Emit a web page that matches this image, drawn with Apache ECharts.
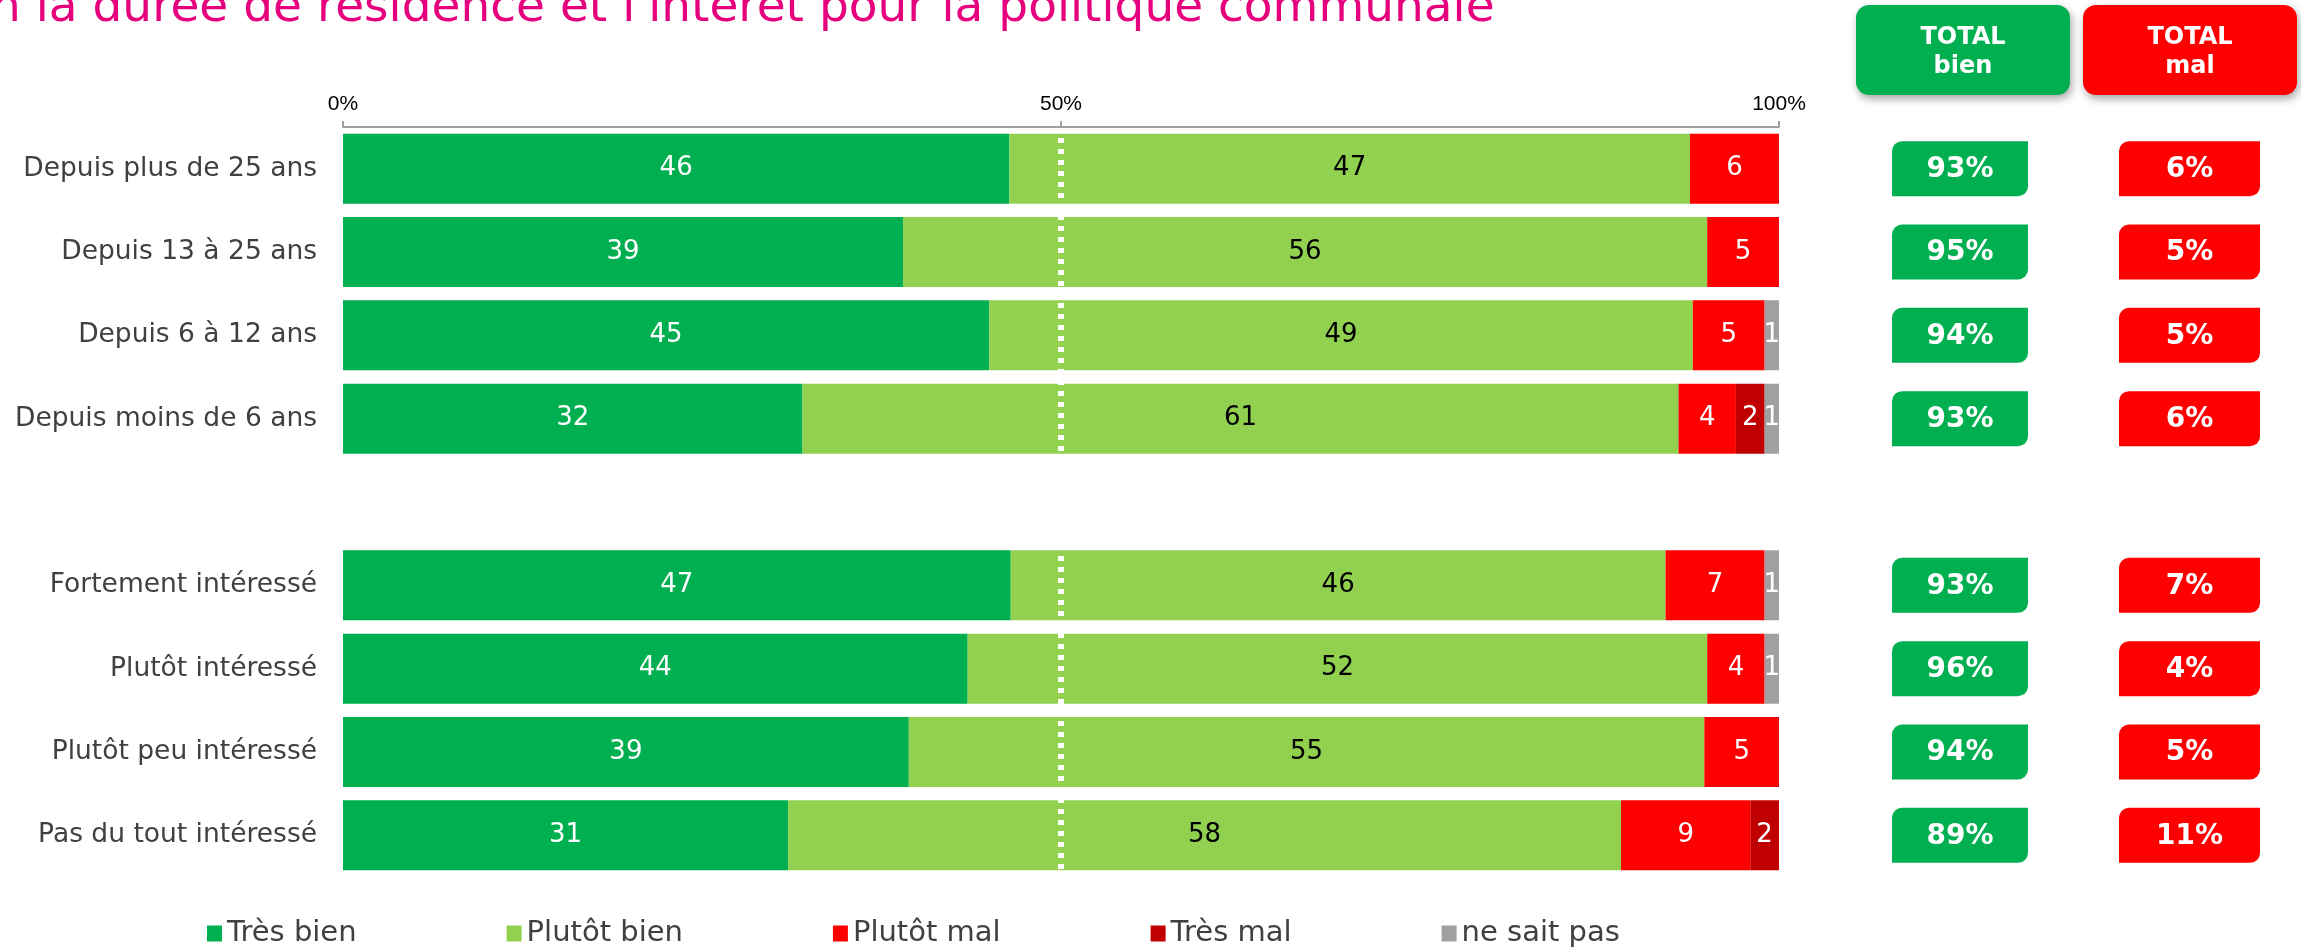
<!DOCTYPE html>
<html>
<head>
<meta charset="utf-8">
<title>Durée de résidence et intérêt pour la politique communale</title>
<script src="https://cdn.jsdelivr.net/npm/echarts@6/dist/echarts.min.js"></script>
<style>
  html, body { margin: 0; padding: 0; background: #fff; }
  #chart { width: 2301px; height: 947px; }
</style>
</head>
<body>
<div id="chart"></div>
<script>
// categories (the empty one makes the gap between the two blocks)
const categories = [
  'Depuis plus de 25 ans',
  'Depuis 13 à 25 ans',
  'Depuis 6 à 12 ans',
  'Depuis moins de 6 ans',
  '',
  'Fortement intéressé',
  'Plutôt intéressé',
  'Plutôt peu intéressé',
  'Pas du tout intéressé'
]
const seriesNames = ['Très bien', 'Plutôt bien', 'Plutôt mal', 'Très mal', 'ne sait pas']
const tresBien = [46.4, 39, 45, 32, null, 46.5, 43.5, 39.4, 31]
const plutotBien = [47.4, 56, 49, 61, null, 45.6, 51.5, 55.4, 58]
const plutotMal = [6.2, 5, 5, 4, null, 6.9, 4, 5.2, 9]
const tresMal = [null, null, null, 2, null, null, null, null, 2]
const neSaitPas = [null, null, 1, 1, null, 1, 1, null, null]
const totalBien = [93, 95, 94, 93, null, 93, 96, 94, 89]
const totalMal = [6, 5, 5, 6, null, 7, 4, 5, 11]
const axisTicks = [0, 50, 100]

const FONT = '"DejaVu Sans", Verdana, sans-serif'
const colors = ['#00B050', '#92D050', '#FF0000', '#C00000', '#A0A0A0']
const labelColors = ['#fff', '#000', '#fff', '#fff', '#fff']

const GRID_TOP = 127
const GRID_H = 750

const chart = echarts.init(document.getElementById('chart'), null, { renderer: 'canvas' })

function barSeries(name, data, idx) {
  const s = {
    name: name,
    type: 'bar',
    stack: 'total',
    barWidth: 70,
    data: data,
    itemStyle: { color: colors[idx] },
    label: {
      show: true,
      position: 'inside',
      color: labelColors[idx],
      fontFamily: FONT,
      fontSize: 26,
      formatter: p => (p.value == null ? '' : String(Math.round(p.value)))
    }
  }
  if (idx === 0) {
    // dotted white line at 50%
    s.markLine = {
      silent: true,
      symbol: 'none',
      label: { show: false },
      lineStyle: { color: '#fff', type: [5, 6], width: 6 },
      data: [{ xAxis: 50 }]
    }
  }
  return s
}

// total boxes drawn on their own small grids, sharing the category axis layout
function totalSeries(values, color, gridIdx) {
  return {
    type: 'custom',
    xAxisIndex: gridIdx,
    yAxisIndex: gridIdx,
    silent: true,
    data: values.map((v, i) => [0, i, v]).filter(d => d[2] != null),
    encode: { x: 0, y: 1 },
    renderItem: function(params, api) {
      const pt = api.coord([0, api.value(1)])
      const cs = params.coordSys
      return {
        type: 'group',
        children: [
          {
            type: 'rect',
            shape: { x: cs.x, y: pt[1] - 27.5, width: cs.width, height: 55, r: [10, 0, 10, 0] },
            style: { fill: color }
          },
          {
            type: 'text',
            style: {
              x: cs.x + cs.width / 2,
              y: pt[1] + 1,
              text: api.value(2) + '%',
              fill: '#fff',
              font: 'bold 28px ' + FONT,
              align: 'center',
              verticalAlign: 'middle'
            }
          }
        ]
      }
    }
  }
}

function header(x, w, color, text) {
  return {
    type: 'group',
    children: [
      {
        type: 'rect',
        shape: { x: x, y: 5, width: w, height: 90, r: 13 },
        style: {
          fill: color,
          shadowBlur: 8,
          shadowOffsetX: 2,
          shadowOffsetY: 4,
          shadowColor: 'rgba(0,0,0,0.35)'
        }
      },
      {
        type: 'text',
        style: {
          x: x + w / 2,
          y: 52,
          text: text,
          fill: '#fff',
          font: 'bold 24px ' + FONT,
          lineHeight: 29,
          align: 'center',
          verticalAlign: 'middle'
        }
      }
    ]
  }
}

chart.setOption({
  animation: false,
  backgroundColor: '#fff',
  color: colors,
  textStyle: { fontFamily: FONT },
  graphic: [
    {
      type: 'text',
      left: -9,
      top: -15,
      style: {
        text: 'n la durée de résidence et l\'intérêt pour la politique communale',
        fill: '#E6007E',
        font: '47px ' + FONT
      }
    },
    header(1856, 214, '#00B050', 'TOTAL\nbien'),
    header(2083, 214, '#FF0000', 'TOTAL\nmal')
  ],
  legend: {
    data: seriesNames,
    left: 202,
    top: 914,
    icon: 'rect',
    itemWidth: 15,
    itemHeight: 16,
    itemGap: 150,
    selectedMode: false,
    textStyle: { fontFamily: FONT, fontSize: 29, color: '#404040' }
  },
  grid: [
    { left: 343, top: GRID_TOP, width: 1436, height: GRID_H },
    { left: 1892, top: GRID_TOP, width: 136, height: GRID_H },
    { left: 2119, top: GRID_TOP, width: 141, height: GRID_H }
  ],
  xAxis: [
    {
      type: 'value',
      position: 'top',
      min: axisTicks[0],
      max: axisTicks[axisTicks.length - 1],
      interval: axisTicks[1] - axisTicks[0],
      z: 10,
      axisLine: { show: true, lineStyle: { color: '#A0A0A0', width: 2 } },
      axisTick: { show: true, length: 6, lineStyle: { color: '#A0A0A0', width: 2 } },
      splitLine: { show: false },
      axisLabel: {
        formatter: '{value}%',
        fontFamily: '"Liberation Sans", Arial, sans-serif',
        fontSize: 21,
        color: '#000',
        margin: 12
      }
    },
    { gridIndex: 1, type: 'value', min: 0, max: 1, show: false },
    { gridIndex: 2, type: 'value', min: 0, max: 1, show: false }
  ],
  yAxis: [
    {
      type: 'category',
      data: categories,
      inverse: true,
      axisLine: { show: false },
      axisTick: { show: false },
      axisLabel: { fontFamily: FONT, fontSize: 26.5, color: '#404040', margin: 26 }
    },
    { gridIndex: 1, type: 'category', data: categories, inverse: true, show: false },
    { gridIndex: 2, type: 'category', data: categories, inverse: true, show: false }
  ],
  series: [
    barSeries(seriesNames[0], tresBien, 0),
    barSeries(seriesNames[1], plutotBien, 1),
    barSeries(seriesNames[2], plutotMal, 2),
    barSeries(seriesNames[3], tresMal, 3),
    barSeries(seriesNames[4], neSaitPas, 4),
    totalSeries(totalBien, '#00B050', 1),
    totalSeries(totalMal, '#FF0000', 2)
  ]
})
</script>
</body>
</html>
